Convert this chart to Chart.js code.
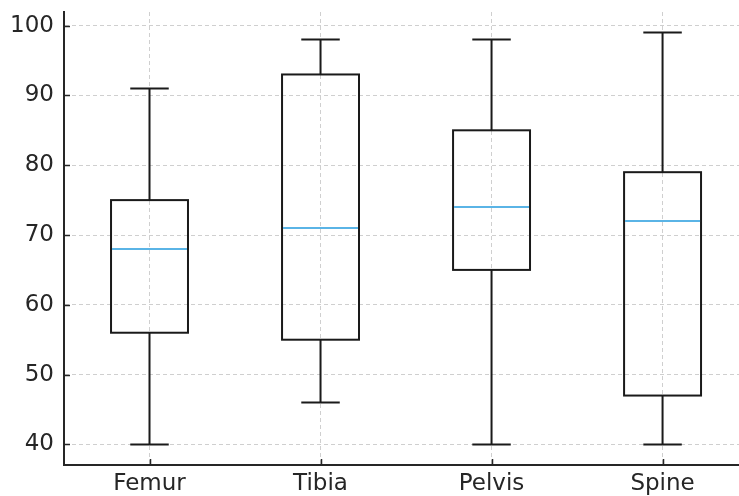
<!DOCTYPE html>
<html>
<head>
<meta charset="utf-8">
<script src="https://cdn.jsdelivr.net/npm/chart.js@4"></script>
<style>
  html, body { margin: 0; padding: 0; background: #fff; }
  canvas { display: block; }
</style>
</head>
<body>
<canvas id="boxChart" width="739" height="496"></canvas>
<script>
// box plot data
const bones = ['Femur', 'Tibia', 'Pelvis', 'Spine'];
const whiskerLow  = [40, 46, 40, 40];
const boxLow      = [56, 55, 65, 47];
const medians     = [68, 71, 74, 72];
const boxHigh     = [75, 93, 85, 79];
const whiskerHigh = [91, 98, 98, 99];
const yTicks = [40, 50, 60, 70, 80, 90, 100];

const BOX_W = 0.45;          // box width in x units
const CAP_W = BOX_W / 2;     // whisker cap width
const INK = '#1a1a1a';
const AXIS = '#262626';
const MEDIAN = '#5ab4e6';

// draws the boxes / whiskers / inward ticks through the chart's scales
const boxPlugin = {
    id: 'boxPlugin',
    afterDatasetsDraw(chart) {
        const ctx = chart.ctx;
        const xs = chart.scales.x;
        const ys = chart.scales.y;
        const area = chart.chartArea;

        ctx.save();
        ctx.lineCap = 'butt';

        bones.forEach(function(name, i) {
            const pos = i + 1;
            const cx = xs.getPixelForValue(pos);
            const bx0 = xs.getPixelForValue(pos - BOX_W / 2);
            const bx1 = xs.getPixelForValue(pos + BOX_W / 2);
            const cx0 = xs.getPixelForValue(pos - CAP_W / 2);
            const cx1 = xs.getPixelForValue(pos + CAP_W / 2);
            const yLo = ys.getPixelForValue(whiskerLow[i]);
            const yQ1 = ys.getPixelForValue(boxLow[i]);
            const yMed = ys.getPixelForValue(medians[i]);
            const yQ3 = ys.getPixelForValue(boxHigh[i]);
            const yHi = ys.getPixelForValue(whiskerHigh[i]);

            ctx.strokeStyle = INK;
            ctx.lineWidth = 2;

            // whiskers
            ctx.beginPath();
            ctx.moveTo(cx, yQ1); ctx.lineTo(cx, yLo);
            ctx.moveTo(cx, yQ3); ctx.lineTo(cx, yHi);
            // caps
            ctx.moveTo(cx0, yLo); ctx.lineTo(cx1, yLo);
            ctx.moveTo(cx0, yHi); ctx.lineTo(cx1, yHi);
            ctx.stroke();

            // box
            ctx.strokeRect(bx0, yQ3, bx1 - bx0, yQ1 - yQ3);

            // median
            ctx.strokeStyle = MEDIAN;
            ctx.beginPath();
            ctx.moveTo(bx0 + 1, yMed); ctx.lineTo(bx1 - 1, yMed);
            ctx.stroke();
        });

        // inward tick marks (matplotlib style)
        ctx.strokeStyle = AXIS;
        ctx.lineWidth = 1.5;
        ctx.beginPath();
        yTicks.forEach(function(v) {
            const py = Math.round(ys.getPixelForValue(v)) + 0.5;
            ctx.moveTo(area.left, py); ctx.lineTo(area.left + 6, py);
        });
        bones.forEach(function(name, i) {
            const px = Math.round(xs.getPixelForValue(i + 1)) + 0.5;
            ctx.moveTo(px, area.bottom); ctx.lineTo(px, area.bottom - 6);
        });
        ctx.stroke();
        ctx.restore();
    }
};

const tickFont = { family: 'DejaVu Sans', size: 23 };

new Chart(document.getElementById('boxChart'), {
    type: 'scatter',
    data: { datasets: [{ data: [], pointRadius: 0 }] },
    options: {
        responsive: false,
        animation: false,
        layout: { padding: { top: 12, right: 0, left: 0, bottom: 0 } },
        plugins: { legend: { display: false }, tooltip: { enabled: false } },
        scales: {
            x: {
                type: 'linear',
                min: 0.5,
                max: 4.447,
                afterBuildTicks: function(scale) {
                    scale.ticks = bones.map((b, i) => ({ value: i + 1 }));
                },
                afterFit: function(scale) {
                    scale.height = 31;
                    scale.paddingLeft = 0;
                    scale.paddingRight = 0;
                },
                ticks: {
                    callback: function(v) { return bones[v - 1]; },
                    font: tickFont,
                    color: AXIS,
                    padding: 5,
                    maxRotation: 0,
                    autoSkip: false
                },
                grid: { color: '#cfcfcf', lineWidth: 1, drawTicks: false },
                border: { display: true, color: AXIS, width: 2, dash: [4, 3] }
            },
            y: {
                min: 37.05,
                max: 101.95,
                afterBuildTicks: function(scale) {
                    scale.ticks = yTicks.map(v => ({ value: v }));
                },
                afterFit: function(scale) {
                    scale.width = 64;
                    scale.paddingTop = 0;
                    scale.paddingBottom = 0;
                },
                ticks: {
                    font: tickFont,
                    color: AXIS,
                    padding: 10
                },
                grid: { color: '#cfcfcf', lineWidth: 1, drawTicks: false },
                border: { display: true, color: AXIS, width: 2, dash: [4, 3] }
            }
        }
    },
    plugins: [boxPlugin]
});
</script>
</body>
</html>
